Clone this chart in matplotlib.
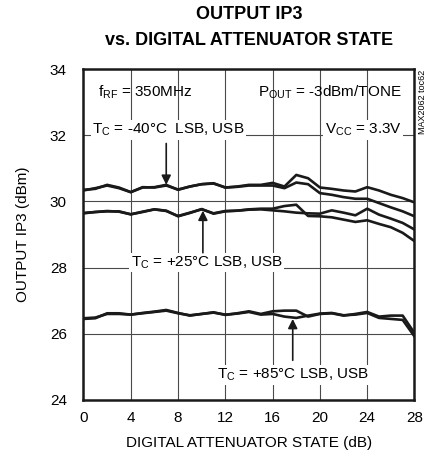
import matplotlib
matplotlib.use("Agg")
import matplotlib.pyplot as plt
from matplotlib import font_manager

names = {f.name for f in font_manager.fontManager.ttflist}
FONT = "Liberation Sans Narrow" if "Liberation Sans Narrow" in names else "Liberation Sans"
plt.rcParams["font.family"] = [FONT, "DejaVu Sans"]

# ---- data ----
atten_db = list(range(0, 29))
ip3_m40_lsb = [30.35, 30.38, 30.50, 30.42, 30.28, 30.42, 30.43, 30.50, 30.35, 30.45,
               30.52, 30.55, 30.42, 30.45, 30.50, 30.50, 30.56, 30.45, 30.80, 30.70,
               30.42, 30.38, 30.33, 30.30, 30.43, 30.33, 30.20, 30.10, 29.97]
ip3_m40_usb = [30.33, 30.40, 30.48, 30.40, 30.28, 30.43, 30.42, 30.48, 30.36, 30.45,
               30.52, 30.54, 30.42, 30.44, 30.48, 30.48, 30.48, 30.40, 30.57, 30.52,
               30.25, 30.20, 30.13, 30.08, 30.08, 29.95, 29.82, 29.70, 29.55]
ip3_p25_lsb = [29.65, 29.68, 29.70, 29.70, 29.61, 29.68, 29.76, 29.72, 29.55, 29.65,
               29.77, 29.63, 29.70, 29.72, 29.76, 29.78, 29.78, 29.86, 29.90, 29.56,
               29.55, 29.52, 29.45, 29.38, 29.43, 29.32, 29.22, 29.05, 28.80]
ip3_p25_usb = [29.64, 29.68, 29.71, 29.69, 29.61, 29.69, 29.76, 29.71, 29.56, 29.66,
               29.76, 29.64, 29.71, 29.72, 29.75, 29.76, 29.73, 29.70, 29.66, 29.64,
               29.63, 29.73, 29.66, 29.58, 29.78, 29.60, 29.48, 29.35, 29.15]
ip3_p85_lsb = [26.45, 26.47, 26.62, 26.62, 26.58, 26.63, 26.67, 26.72, 26.63, 26.55,
               26.60, 26.65, 26.57, 26.62, 26.68, 26.60, 26.68, 26.70, 26.70, 26.52,
               26.60, 26.62, 26.55, 26.60, 26.66, 26.52, 26.55, 26.55, 26.02]
ip3_p85_usb = [26.47, 26.49, 26.60, 26.60, 26.58, 26.62, 26.66, 26.70, 26.62, 26.56,
               26.60, 26.64, 26.58, 26.61, 26.66, 26.58, 26.60, 26.52, 26.48, 26.55,
               26.61, 26.63, 26.56, 26.58, 26.63, 26.48, 26.45, 26.42, 25.92]

x_ticks = [0, 4, 8, 12, 16, 20, 24, 28]
y_ticks = [24, 26, 28, 30, 32, 34]

fig = plt.figure(figsize=(4.29, 4.62), dpi=100)
ax = fig.add_axes([0.1946, 0.1342, 0.7716, 0.7164])

for s in [ip3_m40_lsb, ip3_m40_usb, ip3_p25_lsb, ip3_p25_usb, ip3_p85_lsb, ip3_p85_usb]:
    ax.plot(atten_db, s, color="#1a1a1a", lw=1.9, solid_joinstyle="round", zorder=3)

ax.set_xlim(0, 28)
ax.set_ylim(24, 34)
ax.set_xticks(x_ticks)
ax.set_yticks(y_ticks)
ax.tick_params(length=0, labelsize=11)
ax.tick_params(axis="y", pad=12)
ax.tick_params(axis="x", pad=8)
ax.grid(True, color="#4a4a4a", lw=0.8, zorder=0)
for sp in ax.spines.values():
    sp.set_linewidth(1.8)
    sp.set_color("#1a1a1a")

ax.set_xlabel("DIGITAL ATTENUATOR STATE (dB)", fontsize=11, labelpad=8)
ax.set_ylabel("OUTPUT IP3 (dBm)", fontsize=11, labelpad=14)

fig.text(0.58, 0.968, "OUTPUT IP3", ha="center", va="center",
         fontsize=13, fontweight="bold")
fig.text(0.58, 0.912, "vs. DIGITAL ATTENUATOR STATE", ha="center", va="center",
         fontsize=13, fontweight="bold")

box = dict(facecolor="white", edgecolor="none", pad=1.0)
ax.text(1.25, 33.31, r"f$_{\mathregular{RF}}$ = 350MHz", fontsize=11, va="center", ha="left", zorder=4)
ax.text(26.9, 33.31, r"P$_{\mathregular{OUT}}$ = -3dBm/TONE", fontsize=11, va="center", ha="right", zorder=4)
ax.text(26.9, 32.16, r"V$_{\mathregular{CC}}$ = 3.3V", fontsize=11, va="center", ha="right", bbox=box, zorder=4)
ax.text(0.75, 32.16, r"T$_{\mathregular{C}}$ = -40°C  LSB, USB", fontsize=11, va="center", ha="left", bbox=box, zorder=4)
ax.text(4.0, 28.15, r"T$_{\mathregular{C}}$ = +25°C LSB, USB", fontsize=11, va="center", ha="left", bbox=box, zorder=4)
ax.text(11.3, 24.76, r"T$_{\mathregular{C}}$ = +85°C LSB, USB", fontsize=11, va="center", ha="left", bbox=box, zorder=4)

arrow = dict(arrowstyle="-|>", color="#1a1a1a", lw=1.2, mutation_scale=14, shrinkA=0, shrinkB=0)
ax.annotate("", xy=(7.0, 30.5), xytext=(7.0, 31.75), arrowprops=arrow, zorder=5)
ax.annotate("", xy=(10.1, 29.72), xytext=(10.1, 28.45), arrowprops=arrow, zorder=5)
ax.annotate("", xy=(17.7, 26.45), xytext=(17.7, 25.2), arrowprops=arrow, zorder=5)

fig.text(0.984, 0.78, "MAX2062 toc62", rotation=90, fontsize=6.5, ha="center", va="center")

fig.savefig("out.png", dpi=100)
